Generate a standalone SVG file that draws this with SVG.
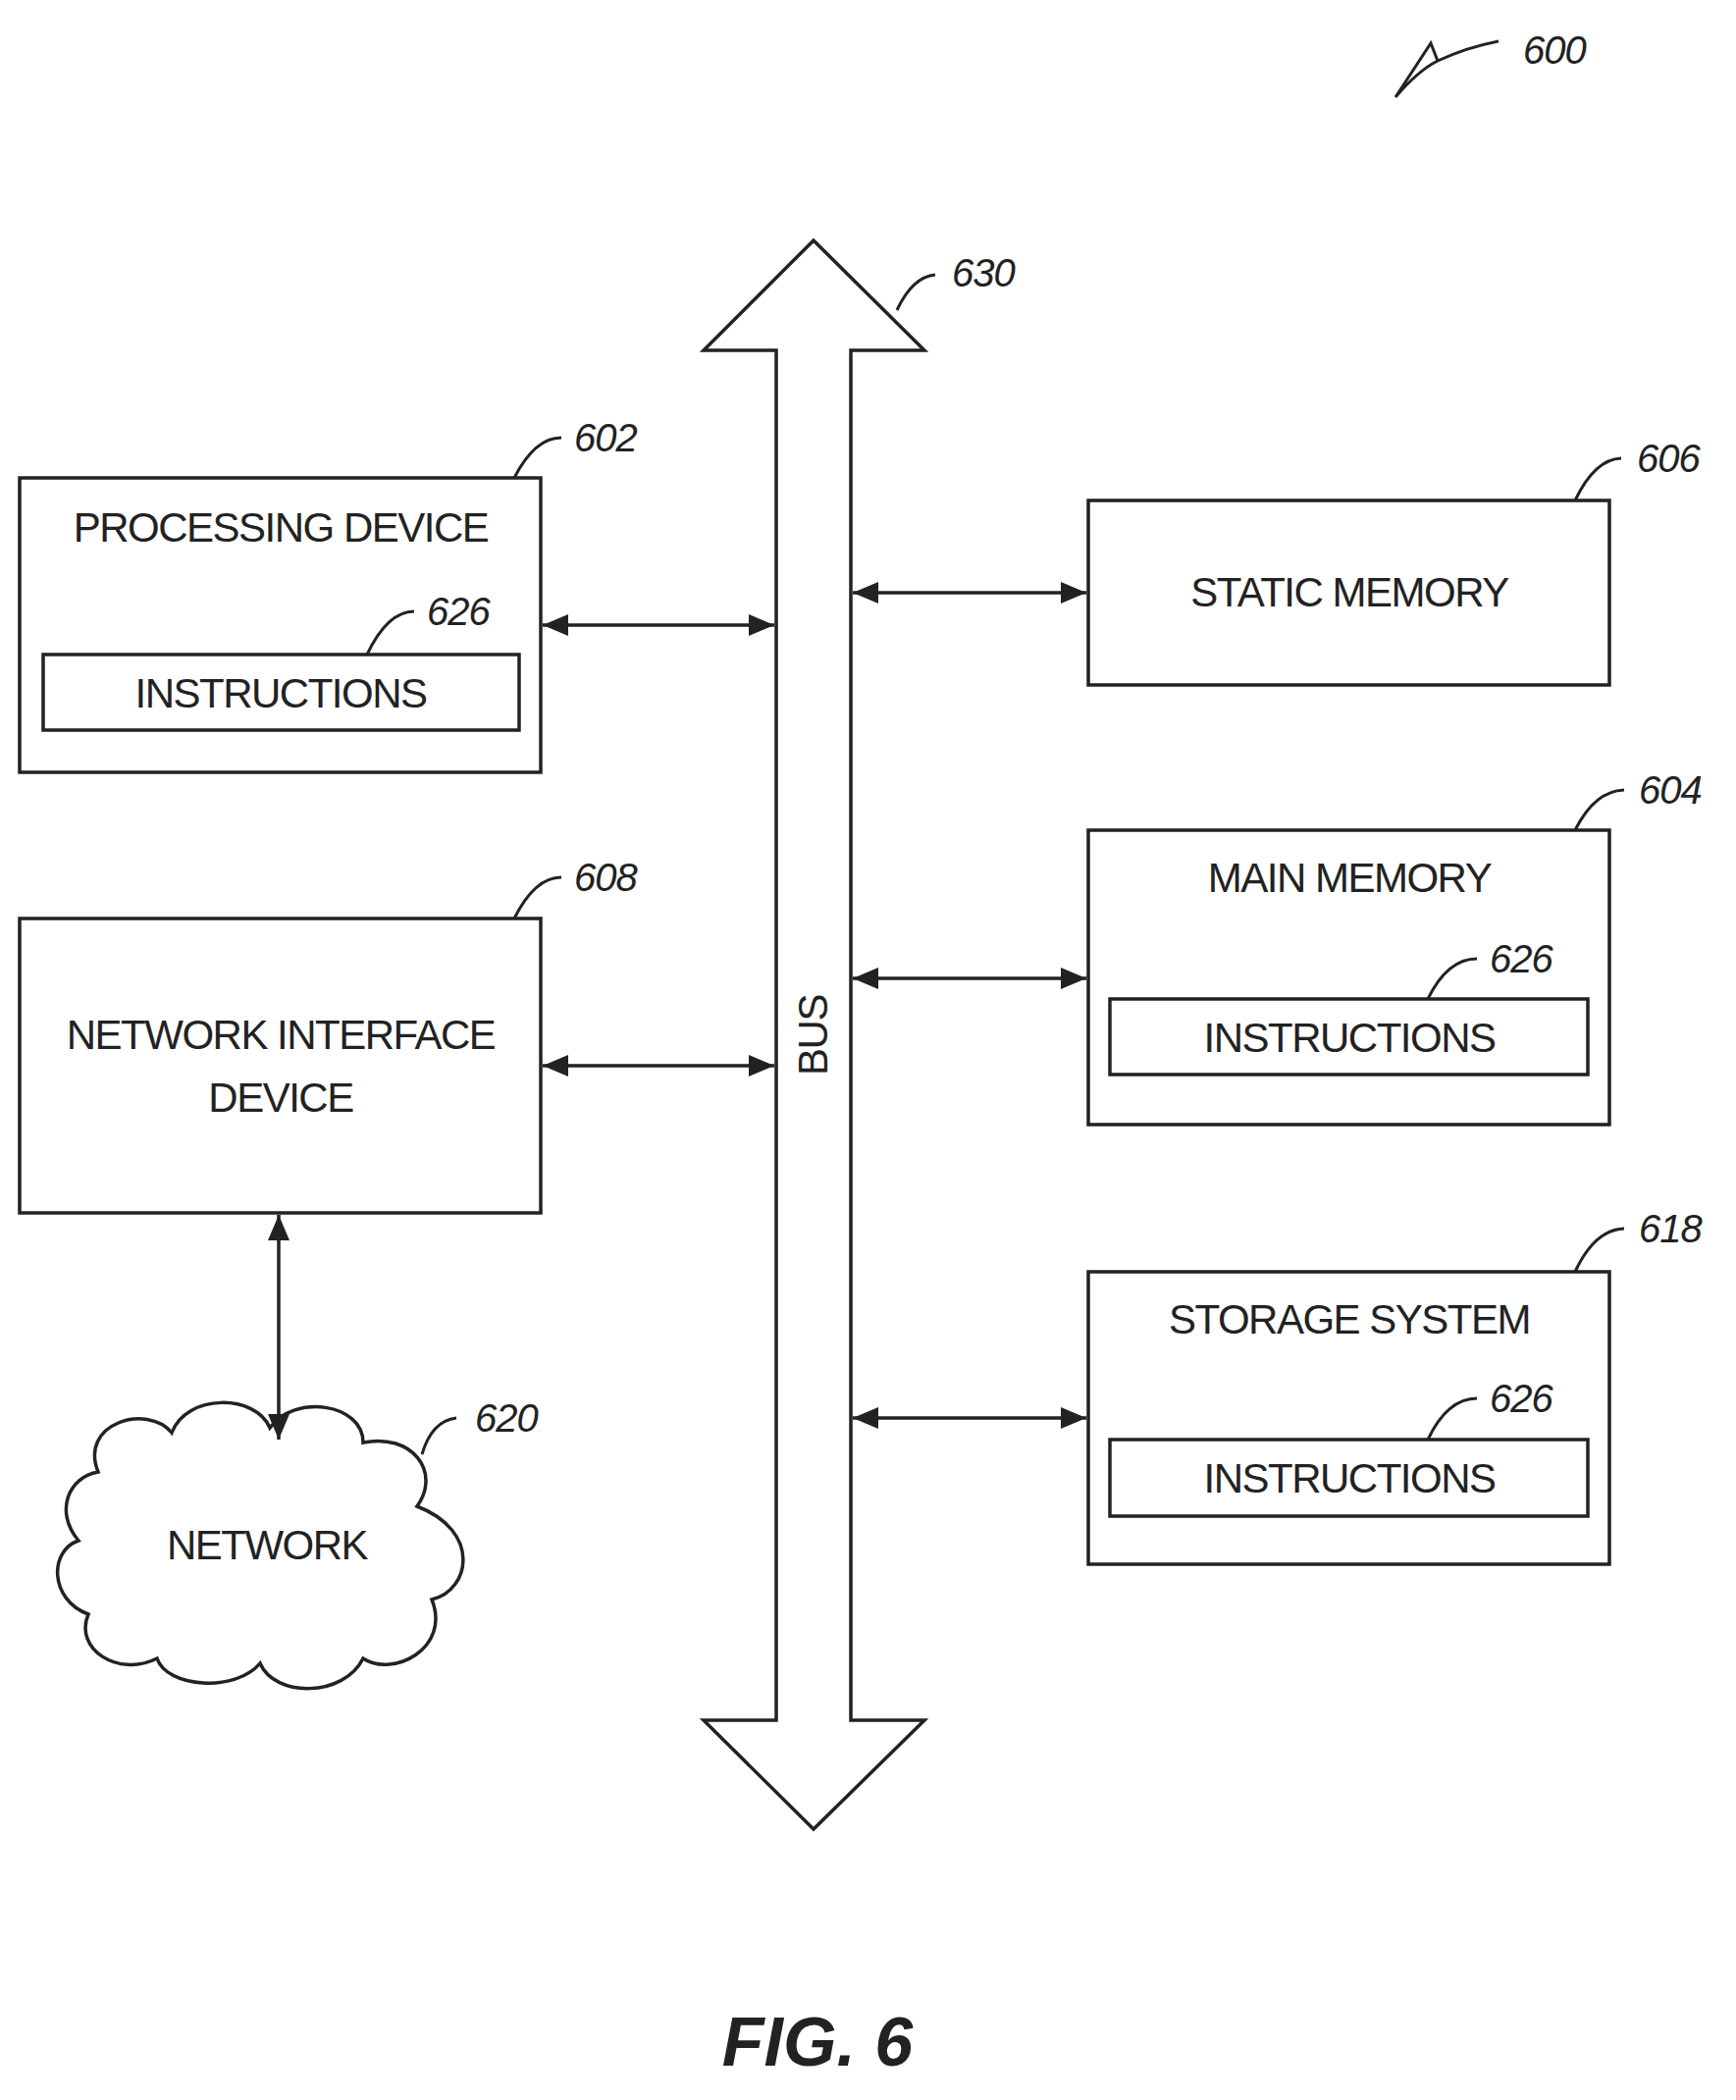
<svg xmlns="http://www.w3.org/2000/svg" width="1769" height="2140" viewBox="0 0 1769 2140">
<defs>
<marker id="ah" viewBox="0 0 10 10" refX="10" refY="5" markerWidth="26" markerHeight="22" orient="auto-start-reverse" markerUnits="userSpaceOnUse" preserveAspectRatio="none">
<path d="M0,0 L10,5 L0,10 z" fill="#222"/>
</marker>
<style>
.box{fill:#fff;stroke:#222;stroke-width:3.5}
.t{font-family:"Liberation Sans",Arial,sans-serif;font-size:42px;fill:#222;text-anchor:middle;letter-spacing:-1.5px}
.lb{font-family:"Liberation Sans",Arial,sans-serif;font-style:italic;font-size:40px;fill:#222;letter-spacing:-1px}
.ld{fill:none;stroke:#222;stroke-width:3}
.cn{stroke:#222;stroke-width:3.5;fill:none;marker-start:url(#ah);marker-end:url(#ah)}
</style>
</defs>
<rect width="1769" height="2140" fill="#fff"/>
<g id="ref600">
<text class="lb" x="1552" y="65" font-size="58">600</text>
<path class="ld" d="M1422,99 L1458,44 L1465,62 M1422,99 Q1445,72 1465,62 Q1495,48 1527,42"/>
</g>
<g id="bus">
<path class="box" d="M829,245 L942,357 L867,357 L867,1753 L942,1753 L829,1864 L717,1753 L791,1753 L791,357 L717,357 Z"/>
<text class="t" transform="translate(843,1055) rotate(-90)">BUS</text>
<path class="ld" d="M914,316 Q930,282 953,280"/>
<text class="lb" x="970" y="292">630</text>
</g>
<g id="processing">
<rect class="box" x="20" y="487" width="531" height="300"/>
<text class="t" x="286" y="552">PROCESSING DEVICE</text>
<rect class="box" x="44" y="667" width="485" height="77"/>
<text class="t" x="286" y="721">INSTRUCTIONS</text>
<path class="ld" d="M524,487 Q545,446 572,446"/>
<text class="lb" x="585" y="460">602</text>
<path class="ld" d="M374,667 Q395,623 422,623"/>
<text class="lb" x="435" y="637">626</text>
</g>
<g id="nic">
<rect class="box" x="20" y="936" width="531" height="300"/>
<text class="t" x="286" y="1069">NETWORK INTERFACE</text>
<text class="t" x="286" y="1133">DEVICE</text>
<path class="ld" d="M524,936 Q545,894 572,894"/>
<text class="lb" x="585" y="908">608</text>
</g>
<g id="network">
<path class="box" d="M100,1500 C80,1450 150,1430 175,1460 C190,1420 260,1420 275,1455 C300,1420 370,1430 370,1470 C420,1460 450,1500 425,1535 C490,1560 480,1620 440,1630 C460,1680 400,1710 370,1690 C350,1730 280,1730 265,1695 C240,1725 170,1720 160,1690 C120,1710 75,1680 90,1645 C50,1630 50,1580 80,1570 C55,1540 70,1505 100,1500 Z"/>
<text class="t" x="272" y="1589">NETWORK</text>
<path class="ld" d="M430,1482 Q440,1448 465,1445"/>
<text class="lb" x="484" y="1459">620</text>
</g>
<g id="static">
<rect class="box" x="1109" y="510" width="531" height="188"/>
<text class="t" x="1375" y="618">STATIC MEMORY</text>
<path class="ld" d="M1605,510 Q1625,468 1652,467"/>
<text class="lb" x="1668" y="481">606</text>
</g>
<g id="main">
<rect class="box" x="1109" y="846" width="531" height="300"/>
<text class="t" x="1375" y="909">MAIN MEMORY</text>
<rect class="box" x="1131" y="1018" width="487" height="77"/>
<text class="t" x="1375" y="1072">INSTRUCTIONS</text>
<path class="ld" d="M1455,1018 Q1475,977 1505,977"/>
<text class="lb" x="1518" y="991">626</text>
<path class="ld" d="M1605,846 Q1625,806 1655,805"/>
<text class="lb" x="1670" y="819">604</text>
</g>
<g id="storage">
<rect class="box" x="1109" y="1296" width="531" height="298"/>
<text class="t" x="1375" y="1359">STORAGE SYSTEM</text>
<rect class="box" x="1131" y="1467" width="487" height="78"/>
<text class="t" x="1375" y="1521">INSTRUCTIONS</text>
<path class="ld" d="M1455,1467 Q1475,1425 1505,1425"/>
<text class="lb" x="1518" y="1439">626</text>
<path class="ld" d="M1605,1296 Q1625,1253 1655,1252"/>
<text class="lb" x="1670" y="1266">618</text>
</g>
<g id="connectors">
<line class="cn" x1="553" y1="637" x2="789" y2="637"/>
<line class="cn" x1="553" y1="1086" x2="789" y2="1086"/>
<line class="cn" x1="869" y1="604" x2="1107" y2="604"/>
<line class="cn" x1="869" y1="997" x2="1107" y2="997"/>
<line class="cn" x1="869" y1="1445" x2="1107" y2="1445"/>
<line class="cn" x1="284" y1="1238" x2="284" y2="1467"/>
</g>
<text x="833" y="2105" font-family="Liberation Sans, Arial, sans-serif" font-weight="bold" font-style="italic" font-size="70" text-anchor="middle" fill="#222">FIG. 6</text>
</svg>
